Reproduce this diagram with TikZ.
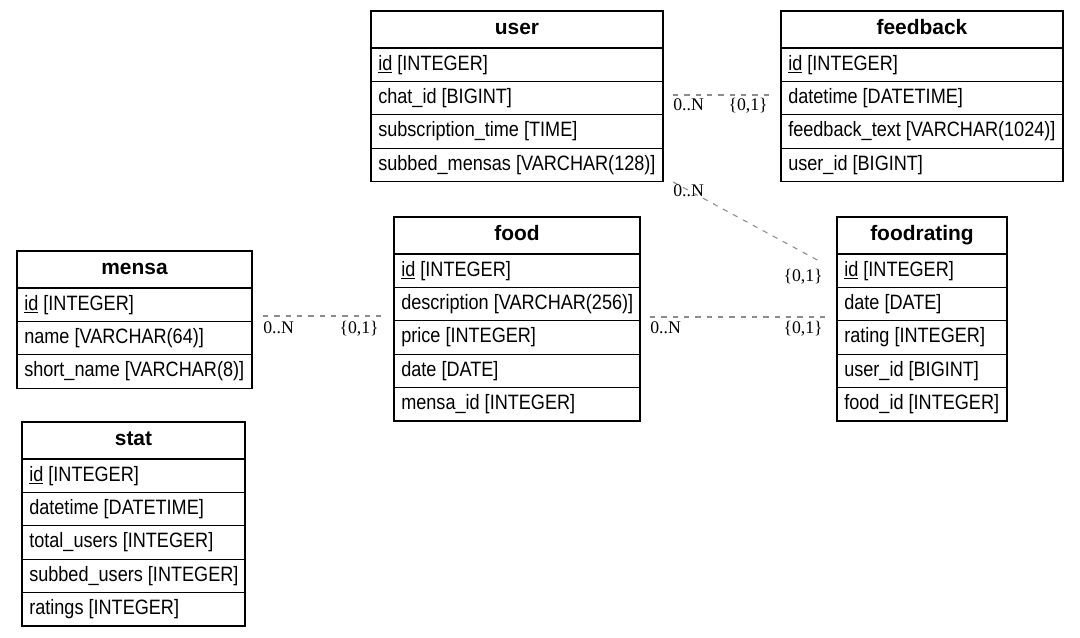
\documentclass[tikz,border=0pt]{standalone}
\usepackage{fontspec}
\setmainfont{Liberation Sans}
\newfontfamily\rowfont[FakeStretch=0.87]{Liberation Sans}
\newfontfamily\lblfont{Liberation Serif}
\tikzset{
  tabline/.style={draw=black, line width=1pt},
  rowtext/.style={anchor=base west, inner sep=0pt, font=\rowfont\fontsize{15.6}{18}\selectfont},
  tabtitle/.style={anchor=base, inner sep=0pt, font=\bfseries\fontsize{15.7}{18}\selectfont},
  cardw/.style={anchor=base west, inner sep=0pt, font=\lblfont\fontsize{13.3}{15}\selectfont},
  carde/.style={anchor=base east, inner sep=0pt, font=\lblfont\fontsize{13.3}{15}\selectfont},
  conn/.style={draw=black!45, line width=0.8pt, dash pattern=on 4pt off 4.5pt}
}
\newcommand\ertable[7]{%
  \draw[tabline] (#2,#4) rectangle (#3,{#4+37+#5*33.4});
  \node[tabtitle] (#1-t) at ({(#2+#3)/2},{#4+23}) {#6};
  \foreach \r [count=\i] in {#7} {
    \draw[tabline] (#2,{#4+37+(\i-1)*33.4}) -- (#3,{#4+37+(\i-1)*33.4});
    \node[rowtext] (#1-\i) at ({#2+7},{#4+37+(\i-1)*33.4+22}) {\r};
  }
}
\begin{document}
\begin{tikzpicture}[x=0.75pt,y=-0.75pt]
\useasboundingbox (0,0) rectangle (1080,637);
\ertable{user}{371}{663}{11}{4}{user}{\underline{id} [INTEGER], chat\_id [BIGINT], subscription\_time [TIME], subbed\_mensas [VARCHAR(128)]}
\ertable{feedback}{781}{1063}{11}{4}{feedback}{\underline{id} [INTEGER], datetime [DATETIME], feedback\_text [VARCHAR(1024)], user\_id [BIGINT]}
\ertable{mensa}{17}{252}{251}{3}{mensa}{\underline{id} [INTEGER], name [VARCHAR(64)], short\_name [VARCHAR(8)]}
\ertable{food}{394}{640}{217}{5}{food}{\underline{id} [INTEGER], description [VARCHAR(256)], price [INTEGER], date [DATE], mensa\_id [INTEGER]}
\ertable{foodrating}{837}{1007}{217}{5}{foodrating}{\underline{id} [INTEGER], date [DATE], rating [INTEGER], user\_id [BIGINT], food\_id [INTEGER]}
\ertable{stat}{22}{245}{422}{5}{stat}{\underline{id} [INTEGER], datetime [DATETIME], total\_users [INTEGER], subbed\_users [INTEGER], ratings [INTEGER]}

\coordinate (uf1) at (673,95);
\coordinate (uf2) at (770,95);
\coordinate (ur1) at (673,182);
\coordinate (ur2) at (821,262);
\coordinate (mf1) at (263,316);
\coordinate (mf2) at (381,316);
\coordinate (fr1) at (650,317);
\coordinate (fr2) at (826,317);

\draw[conn] (uf1) -- (uf2);
\draw[conn] (ur1) -- (ur2);
\draw[conn] (mf1) -- (mf2);
\draw[conn] (fr1) -- (fr2);

\node[cardw] (l1) at (673,110) {0..N};
\node[carde] (l2) at (768,110) {\{0,1\}};
\node[cardw] (l3) at (673,196) {0..N};
\node[carde] (l4) at (823,281) {\{0,1\}};
\node[cardw] (l5) at (263,333) {0..N};
\node[carde] (l6) at (379,333) {\{0,1\}};
\node[cardw] (l7) at (650,333) {0..N};
\node[carde] (l8) at (823,333) {\{0,1\}};
\end{tikzpicture}
\end{document}
